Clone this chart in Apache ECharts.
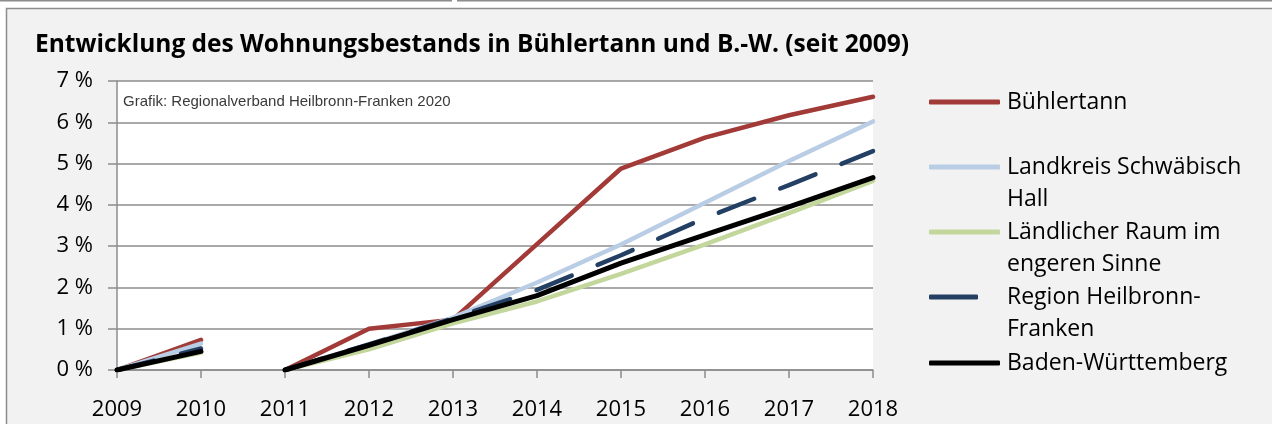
<!DOCTYPE html>
<html>
<head>
<meta charset="utf-8">
<script src="https://cdn.jsdelivr.net/npm/echarts@6/dist/echarts.min.js"></script>
<style>
  html, body { margin: 0; padding: 0; background: #fff; }
  #chart { width: 1272px; height: 424px; }
</style>
</head>
<body>
<div id="chart"></div>
<script>
// Werte in % seit 2009 (2011 Neustart der Reihe)
const years = [2009, 2010, 2011, 2012, 2013, 2014, 2015, 2016, 2017, 2018];
const breakAt = 2010.5;

const buehlertann = [0, 0.73, 0, 1.0, 1.22, 3.05, 4.88, 5.63, 6.17, 6.62];
const landkreis   = [0, 0.64, 0, 0.62, 1.27, 2.12, 3.04, 4.05, 5.06, 6.02];
const laendlich   = [0, 0.42, 0, 0.5, 1.13, 1.66, 2.33, 3.04, 3.8, 4.58];
const region      = [0, 0.52, 0, 0.62, 1.25, 1.94, 2.78, 3.68, 4.48, 5.3];
const bw          = [0, 0.45, 0, 0.6, 1.22, 1.8, 2.59, 3.27, 3.95, 4.66];

const seriesNames = [
    'Bühlertann',
    'Landkreis Schwäbisch Hall',
    'Ländlicher Raum im engeren Sinne',
    'Region Heilbronn-Franken',
    'Baden-Württemberg'
];
const legendLines = [
    ['Bühlertann', ' '],
    ['Landkreis Schwäbisch', 'Hall'],
    ['Ländlicher Raum im', 'engeren Sinne'],
    ['Region Heilbronn-', 'Franken'],
    ['Baden-Württemberg', ' ']
];
const colors = ['#a23b38', '#b9cde5', '#c3d69b', '#233f63', '#000000'];
const yTicks = [0, 1, 2, 3, 4, 5, 6, 7];

function toData(values) {
    const data = years.map((y, i) => [y, values[i]]);
    data.splice(2, 0, [breakAt, null]);
    return data;
}

const chart = echarts.init(document.getElementById('chart'));
const legendIconY = [102, 167, 232, 297, 363];
const lineH = 32;

const option = {
    animation: false,
    backgroundColor: '#fff',
    title: {
        text: 'Entwicklung des Wohnungsbestands in Bühlertann und B.-W. (seit 2009)',
        left: 30,
        top: 28,
        textStyle: {
            fontFamily: 'Open Sans',
            fontWeight: 'bold',
            fontSize: 24.5,
            color: '#000'
        }
    },
    graphic: [
        { type: 'rect', shape: { x: 0, y: 0, width: 452, height: 1.5 }, style: { fill: '#8c8c8c' }, z: -10 },
        { type: 'rect', shape: { x: 457, y: 0, width: 815, height: 1.5 }, style: { fill: '#8c8c8c' }, z: -10 },
        {
            type: 'rect',
            shape: { x: 6.5, y: 8.5, width: 1290, height: 440 },
            style: { fill: '#f2f2f2', stroke: '#8c8c8c', lineWidth: 1.5 },
            z: -10
        },
        {
            type: 'text',
            left: 123,
            top: 94,
            z: 10,
            style: {
                text: 'Grafik: Regionalverband Heilbronn-Franken 2020',
                font: '15px "Liberation Sans", Arial, sans-serif',
                fill: '#3a3a3a'
            }
        }
    ],
    legend: seriesNames.map((name, i) => ({
        data: [name],
        left: 924,
        top: legendIconY[i] - lineH * 1.5 - 5,
        icon: 'roundRect',
        itemWidth: i === 3 ? 49 : 71,
        itemHeight: 5,
        selectedMode: false,
        formatter: () => ' \n' + legendLines[i].join('\n'),
        textStyle: {
            fontFamily: 'Open Sans',
            fontSize: 23,
            color: '#000',
            lineHeight: lineH,
            padding: [0, 0, 0, i === 3 ? 24 : 2]
        }
    })),
    grid: {
        left: 117,
        right: 399,
        top: 81,
        bottom: 54,
        show: true,
        backgroundColor: '#fff',
        borderWidth: 0
    },
    xAxis: {
        type: 'value',
        min: years[0],
        max: years[years.length - 1],
        interval: 1,
        axisLine: { lineStyle: { color: '#8c8c8c', width: 1.5 } },
        axisTick: { show: true, length: 8, lineStyle: { color: '#8c8c8c', width: 1.5 } },
        splitLine: { show: false },
        axisLabel: {
            margin: 29,
            fontFamily: 'Open Sans',
            fontSize: 22,
            color: '#000',
            formatter: v => String(v)
        }
    },
    yAxis: {
        type: 'value',
        min: yTicks[0],
        max: yTicks[yTicks.length - 1],
        interval: 1,
        axisLine: { show: true, lineStyle: { color: '#8c8c8c', width: 1.5 } },
        axisTick: { show: true, length: 9, lineStyle: { color: '#8c8c8c', width: 1.5 } },
        splitLine: { lineStyle: { color: '#8c8c8c', width: 1.5 } },
        axisLabel: {
            margin: 24,
            fontFamily: 'Open Sans',
            fontSize: 22,
            color: '#000',
            formatter: '{value} %'
        }
    },
    series: [buehlertann, landkreis, laendlich, region, bw].map((vals, i) => ({
        name: seriesNames[i],
        type: 'line',
        data: toData(vals),
        showSymbol: false,
        symbol: 'none',
        connectNulls: false,
        color: colors[i],
        lineStyle: {
            color: colors[i],
            width: i === 4 ? 5 : 4.5,
            type: i === 3 ? [38, 28] : 'solid',
            cap: 'round',
            join: 'round'
        },
        z: 2 + i
    }))
};

chart.setOption(option);
</script>
</body>
</html>
